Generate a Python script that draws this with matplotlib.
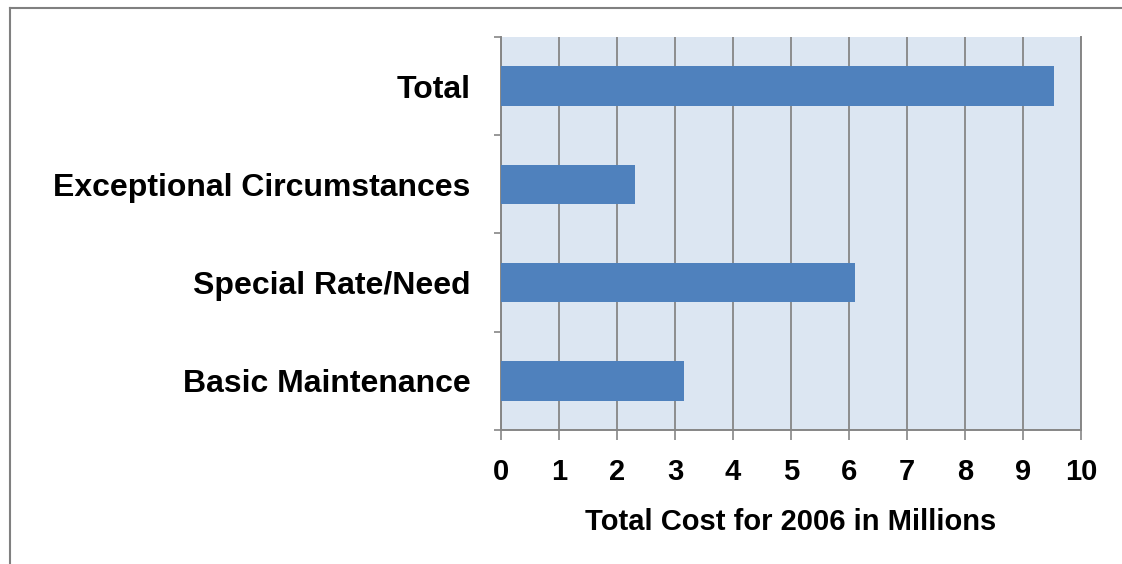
import matplotlib
matplotlib.use("Agg")
import matplotlib.pyplot as plt
from matplotlib.lines import Line2D

categories = ["Basic Maintenance", "Special Rate/Need", "Exceptional Circumstances", "Total"]
costs = [3.15, 6.10, 2.31, 9.53]
x_ticks = list(range(0, 11))
x_label = "Total Cost for 2006 in Millions"

GRAY = "#868686"
BAR = "#4F81BD"
BG = "#DCE6F2"

plt.rcParams['font.family'] = ['Liberation Sans', 'DejaVu Sans']

fig = plt.figure(figsize=(11.22, 5.64), dpi=100)
ax = fig.add_axes([0.4465, 0.2376, 0.517, 0.6968])
ax.set_facecolor(BG)

pos = list(range(len(categories)))
ax.barh(pos, costs, height=0.4, color=BAR, zorder=3)

ax.set_xlim(0, 10)
ax.set_ylim(-0.5, len(categories) - 0.5)
ax.set_xticks(x_ticks)
ax.set_xticklabels([str(t) for t in x_ticks], fontsize=21, fontweight='bold')
ax.set_yticks(pos)
ax.set_yticklabels(categories, fontsize=23, fontweight='bold')
ax.set_yticks([p - 0.5 for p in pos] + [len(categories) - 0.5], minor=True)

ax.tick_params(axis='y', which='major', length=0, pad=22)
ax.tick_params(axis='y', which='minor', length=5, width=1.2, color=GRAY)
ax.tick_params(axis='x', which='major', length=7, width=1.2, color=GRAY, pad=13)

ax.grid(axis='x', color=GRAY, linewidth=1.3, zorder=1)
ax.set_axisbelow(True)

for side in ['left', 'bottom', 'right']:
    ax.spines[side].set_color(GRAY)
    ax.spines[side].set_linewidth(1.4)
ax.spines['top'].set_visible(False)

ax.set_xlabel(x_label, fontsize=21, fontweight='bold', labelpad=16)

# outer frame (top and left edges only)
fig.add_artist(Line2D([10 / 1122, 1.0], [1 - 8 / 564, 1 - 8 / 564],
                      transform=fig.transFigure, color="#808080", linewidth=1.5))
fig.add_artist(Line2D([10 / 1122, 10 / 1122], [0.0, 1 - 8 / 564],
                      transform=fig.transFigure, color="#808080", linewidth=1.5))

fig.savefig("out.png", dpi=100)
